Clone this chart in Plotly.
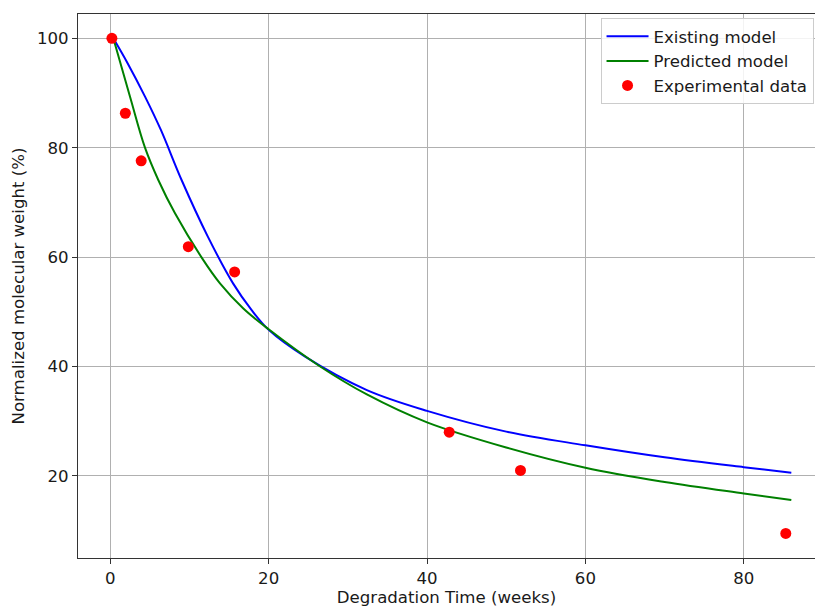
import plotly.graph_objects as go

# Data
existing_t = [0.38, 2.2, 4.4, 6.4, 9.0, 12.3, 15.5, 17.85, 20, 24.6, 32.4, 40, 50, 60, 70, 80, 86]
existing_w = [100, 95.4, 89.3, 83.2, 74.1, 63.8, 55.2, 50.3, 46.7, 41.8, 35.7, 31.9, 28.1, 25.6, 23.4, 21.6, 20.6]

predicted_t = [0.38, 2.49, 4.38, 6.06, 8.17, 11.5, 13.85, 16.8, 20, 26.4, 32.4, 40, 50, 60, 70, 80, 86]
predicted_w = [100, 89.3, 80, 74.1, 68.0, 60.0, 55.2, 50.6, 46.8, 40.1, 34.9, 29.8, 25.2, 21.5, 18.9, 16.8, 15.6]

exp_t = [0.2, 1.9, 3.9, 9.85, 15.7, 42.8, 51.8, 85.3]
exp_w = [100, 86.3, 77.6, 61.9, 57.3, 28.0, 21.0, 9.5]

x_ticks = [0, 20, 40, 60, 80]
y_ticks = [20, 40, 60, 80, 100]

FONT = "DejaVu Sans"
FS = 16.6
TXT = "#1a1a1a"

fig = go.Figure()
fig.add_trace(go.Scatter(
    x=existing_t, y=existing_w, mode="lines", name="Existing model",
    line=dict(color="#0000ff", width=2, shape="spline", smoothing=1.0),
))
fig.add_trace(go.Scatter(
    x=predicted_t, y=predicted_w, mode="lines", name="Predicted model",
    line=dict(color="#008000", width=2, shape="spline", smoothing=1.0),
))
fig.add_trace(go.Scatter(
    x=exp_t, y=exp_w, mode="markers", name="Experimental data",
    marker=dict(color="#ff0000", size=11, line=dict(width=0)),
))

fig.update_layout(
    width=815, height=608,
    margin=dict(l=78, r=0, t=14, b=50, autoexpand=False),
    paper_bgcolor="white", plot_bgcolor="white",
    font=dict(family=FONT, size=FS, color=TXT),
    showlegend=True,
    legend=dict(
        x=0.709, y=0.9926, xanchor="left", yanchor="top",
        bgcolor="rgba(255,255,255,0.85)", bordercolor="#cccccc", borderwidth=1,
        font=dict(family=FONT, size=FS, color=TXT),
        tracegroupgap=0, itemwidth=42,
    ),
    xaxis=dict(
        range=[-4.08, 88.99], tickvals=x_ticks, ticktext=[str(v) for v in x_ticks],
        showgrid=True, gridcolor="#b0b0b0", gridwidth=1,
        showline=True, linecolor="#333", linewidth=1, mirror=True,
        ticks="outside", ticklen=5, tickcolor="#333",
        zeroline=False, automargin=False,
        title=dict(text="Degradation Time (weeks)", standoff=4, font=dict(family=FONT, size=FS)),
    ),
    yaxis=dict(
        range=[5.0, 104.44], tickvals=y_ticks, ticktext=[str(v) for v in y_ticks],
        showgrid=True, gridcolor="#b0b0b0", gridwidth=1,
        showline=True, linecolor="#333", linewidth=1, mirror=False,
        ticks="outside", ticklen=5, tickcolor="#333",
        zeroline=False, automargin=False,
        title=dict(text="Normalized molecular weight (%)", standoff=8, font=dict(family=FONT, size=FS)),
    ),
)

fig.write_html(
    "out.html",
    config={"displayModeBar": False},
    post_script="document.body.style.margin='0';document.body.style.overflow='hidden';",
)
